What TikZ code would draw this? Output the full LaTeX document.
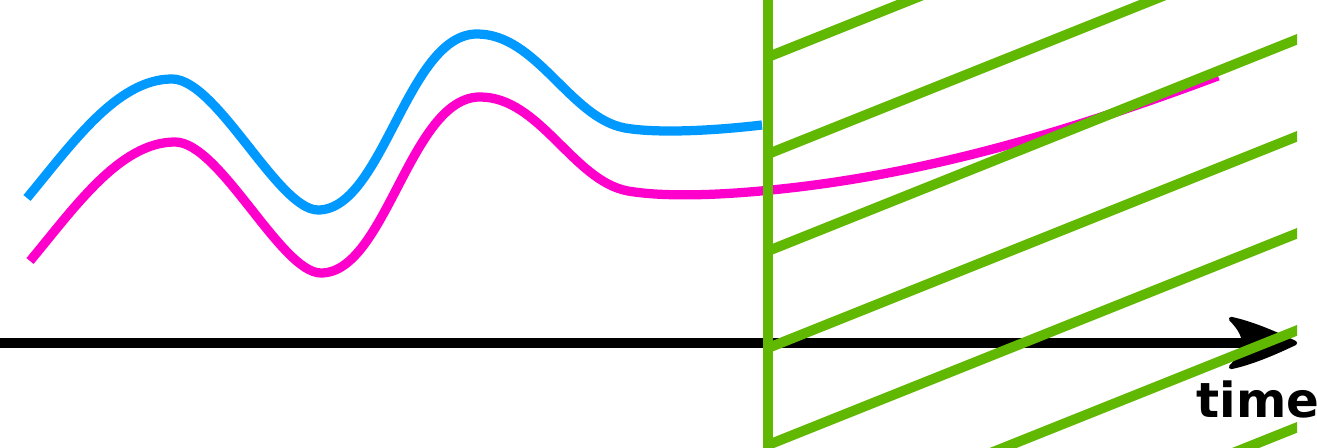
\documentclass[tikz,border=0pt]{standalone}
\usepackage{fontspec}
\newfontfamily\labelfont{DejaVu Sans}
\usetikzlibrary{arrows.meta}
\definecolor{cblue}{RGB}{0,153,255}
\definecolor{cmag}{RGB}{255,0,204}
\definecolor{cgreen}{RGB}{96,184,0}
\begin{document}
\begin{tikzpicture}[x=0.02cm,y=-0.02cm,
  curve/.style={line width=0.185cm},
  greenline/.style={cgreen,line width=0.2cm},
  axisline/.style={black,line width=0.2cm},
  labeltext/.style={anchor=base west,inner sep=0pt,font=\labelfont\bfseries\fontsize{27.5}{27.5}\selectfont}]
\useasboundingbox (0,0) rectangle (1317,448);
% curves
\draw[curve,cblue] (27,198) .. controls (72,144) and (117,79) .. (172,79)
  .. controls (217,79) and (278,210) .. (318,210)
  .. controls (383,210) and (407,34) .. (477,34)
  .. controls (537,34) and (570,118) .. (625,128)
  .. controls (660,134) and (720,130) .. (762,125);
\draw[curve,cmag] (30,261) .. controls (75,207) and (120,142) .. (175,142)
  .. controls (220,142) and (281,273) .. (321,273)
  .. controls (386,273) and (410,97) .. (480,97)
  .. controls (540,97) and (573,181) .. (628,191)
  .. controls (663,197) and (720,196) .. (790,188)
  .. controls (950,170) and (1100,120) .. (1218,76);
% time axis
\coordinate (axstart) at (0,343);
\coordinate (axshaft) at (1250,343);
\coordinate (axtip) at (1295,343);
\draw[axisline] (axstart) -- (axshaft);
\filldraw[black,line width=2.5pt,line join=round] (axtip) .. controls (1272,332) and (1250,323) .. (1231,319)
  .. controls (1240,328) and (1244,336) .. (1244,343)
  .. controls (1244,350) and (1240,358) .. (1231,367)
  .. controls (1250,363) and (1272,354) .. (axtip) -- cycle;
\node[labeltext] (timelabel) at (1196,418) {time};
% green boundary and hatching
\coordinate (gtop) at (768,0);
\coordinate (gbot) at (768,448);
\begin{scope}
  \clip (768,0) rectangle (1297,448);
  \foreach \k in {0,...,6} {
    \draw[greenline] (768,57+97*\k) -- ++(650,-260);
  }
\end{scope}
\draw[greenline] (gtop) -- (gbot);
\end{tikzpicture}
\end{document}
